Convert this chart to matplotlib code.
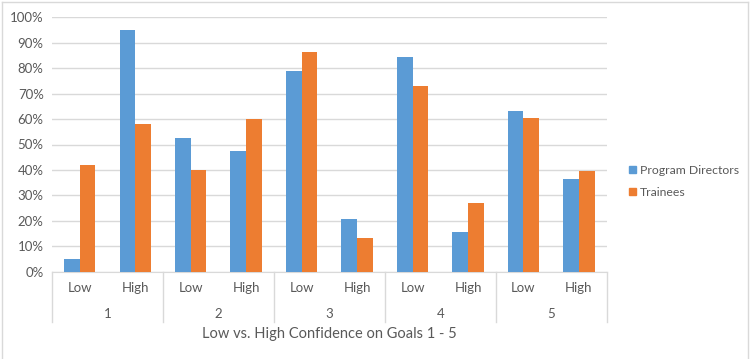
import matplotlib.pyplot as plt
from matplotlib.patches import Patch
import numpy as np

plt.rcParams['font.family'] = ['Lato', 'DejaVu Sans']

# Data
goals = ["1", "2", "3", "4", "5"]
levels = ["Low", "High"]
program_directors = [5.1, 94.9, 52.6, 47.4, 78.9, 20.9, 84.3, 15.7, 63.0, 36.6]
trainees = [42.0, 57.9, 39.9, 60.1, 86.5, 13.4, 73.1, 26.9, 60.6, 39.4]
series_names = ["Program Directors", "Trainees"]

blue = "#5B9BD5"
orange = "#ED7D31"
text_col = "#595959"
grid_col = "#D9D9D9"

fig = plt.figure(figsize=(7.5, 3.59), dpi=100)
W, H = 750, 359

# Chart frame
fig.add_artist(plt.Line2D([2 / W, 2 / W], [0, 1 - 2 / H], color=grid_col, lw=1))
fig.add_artist(plt.Line2D([2 / W, 748 / W], [1 - 2 / H, 1 - 2 / H], color=grid_col, lw=1))
fig.add_artist(plt.Line2D([748 / W, 748 / W], [0, 1 - 2 / H], color=grid_col, lw=1))

left, right, top, bottom = 52, 606.7, 17.3, 271.7
ax = fig.add_axes([left / W, 1 - bottom / H, (right - left) / W, (bottom - top) / H])

x = np.arange(len(program_directors))
w = 0.283
ax.bar(x - w / 2, program_directors, w, color=blue, zorder=3)
ax.bar(x + w / 2, trainees, w, color=orange, zorder=3)

ax.set_xlim(-0.5, len(x) - 0.5)
ax.set_ylim(0, 100)
ax.set_yticks(np.arange(0, 101, 10))
ax.set_yticklabels([f"{v}%" for v in range(0, 101, 10)])
ax.tick_params(axis="y", length=0, labelsize=9.5, labelcolor=text_col, pad=6)
ax.set_xticks([])
ax.grid(axis="y", color=grid_col, lw=1, zorder=0)
for s in ["top", "right", "left"]:
    ax.spines[s].set_visible(False)
ax.spines["bottom"].set_color(grid_col)

# Multi-level category axis
ph = bottom - top
tr = ax.get_xaxis_transform()
for i in x:
    ax.text(i, -16.3 / ph, levels[i % 2], transform=tr, ha="center", va="center",
            fontsize=9.5, color=text_col)
for g, name in enumerate(goals):
    ax.text(2 * g + 0.5, -42.3 / ph, name, transform=tr, ha="center", va="center",
            fontsize=9.5, color=text_col)
for b in range(len(goals) + 1):
    ax.plot([2 * b - 0.5, 2 * b - 0.5], [0, -50 / ph], transform=tr, color=grid_col,
            lw=1, clip_on=False)

ax.text(0.5, -62.3 / ph, "Low vs. High Confidence on Goals 1 - 5", transform=ax.transAxes,
        ha="center", va="center", fontsize=10.5, color=text_col)

handles = [Patch(color=blue), Patch(color=orange)]
fig.legend(handles, series_names, loc="upper left", bbox_to_anchor=(629 / W, 1 - 165 / H),
           frameon=False, borderpad=0, borderaxespad=0, handlelength=0.55,
           handleheight=0.55, handletextpad=0.35, labelspacing=0.9, fontsize=8.8,
           labelcolor=text_col)

fig.savefig("out.png", dpi=100)
